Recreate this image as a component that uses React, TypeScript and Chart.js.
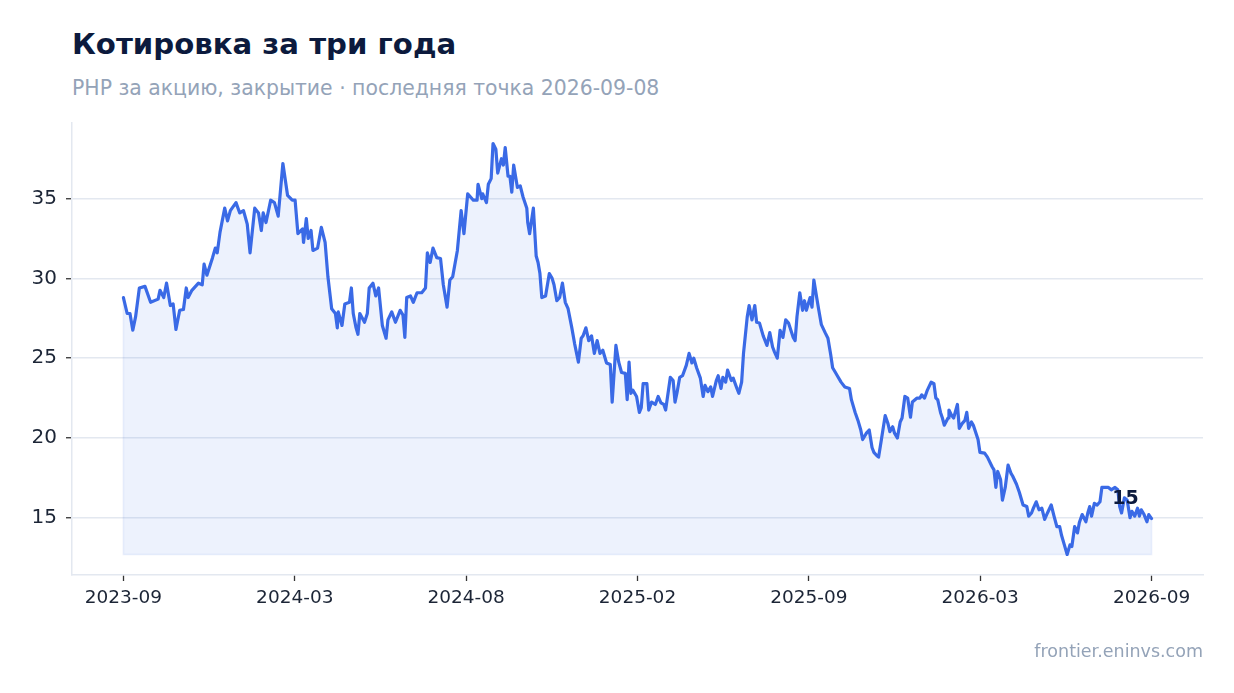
import React, { useEffect, useRef } from "react";
import { Chart, registerables } from "chart.js";

Chart.register(...registerables);

// x-axis tick labels (evenly spaced across the 3-year window)
const tickLabels = ["2023-09", "2024-03", "2024-08", "2025-02", "2025-09", "2026-03", "2026-09"];
const yTicks = [15, 20, 25, 30, 35];
const spanDays = 1096;
const lastDate = "2026-09-08";

// day offset of each sampled close from the window start
const sessionDay = [
  0, 4, 7, 10, 13, 17, 23, 29, 37, 39,
  43, 46, 50, 53, 56, 60, 64, 67, 69, 73,
  80, 84, 86, 89, 95, 98, 100, 103, 108, 111,
  114, 120, 124, 128, 132, 135, 140, 144, 147, 149,
  152, 157, 161, 165, 170, 175, 180, 183, 186, 191,
  192, 195, 197, 200, 202, 207, 211, 215, 218, 222,
  226, 228, 229, 233, 236, 241, 243, 245, 248, 250,
  252, 257, 260, 262, 266, 269, 272, 276, 280, 282,
  286, 290, 295, 298, 300, 302, 306, 309, 313, 318,
  322, 324, 327, 330, 334, 338, 341, 345, 348, 351,
  356, 360, 363, 367, 373, 377, 378, 382, 383, 387,
  389, 392, 394, 397, 399, 403, 405, 407, 410, 412,
  414, 416, 420, 423, 426, 430, 431, 433, 437, 440,
  442, 444, 446, 450, 454, 457, 459, 462, 465, 468,
  471, 474, 478, 481, 485, 488, 490, 493, 496, 499,
  502, 505, 508, 511, 515, 519, 521, 525, 528, 531,
  535, 537, 539, 541, 543, 547, 550, 552, 554, 558,
  560, 563, 567, 570, 573, 576, 578, 583, 586, 588,
  590, 593, 596, 600, 603, 606, 608, 611, 615, 618,
  620, 623, 626, 628, 632, 634, 637, 639, 642, 644,
  648, 650, 654, 656, 659, 661, 665, 667, 670, 673,
  675, 678, 682, 686, 689, 692, 694, 697, 700, 703,
  706, 709, 714, 716, 718, 721, 724, 726, 728, 732,
  734, 736, 739, 741, 744, 748, 751, 754, 756, 759,
  761, 765, 769, 774, 776, 780, 783, 786, 788, 792,
  795, 798, 800, 803, 805, 808, 812, 815, 817, 820,
  822, 825, 828, 830, 833, 836, 839, 841, 846, 849,
  851, 854, 857, 861, 864, 866, 868, 871, 873, 875,
  879, 880, 883, 885, 889, 891, 894, 897, 899, 901,
  904, 906, 911, 913, 918, 921, 926, 928, 930, 932,
  935, 937, 940, 943, 946, 948, 952, 955, 959, 963,
  965, 968, 970, 973, 976, 979, 982, 985, 989, 992,
  995, 998, 1000, 1003, 1006, 1009, 1011, 1014, 1017, 1019,
  1022, 1026, 1028, 1030, 1032, 1035, 1038, 1041, 1043, 1047,
  1050, 1053, 1057, 1060, 1062, 1064, 1067, 1070, 1073, 1075,
  1078, 1081, 1083, 1085, 1088, 1091, 1093, 1096,
];

// closing price, PHP per share
const closes = [
  28.8, 27.8, 27.8, 26.75, 27.6, 29.4, 29.5, 28.5, 28.7, 29.25,
  28.8, 29.7, 28.3, 28.4, 26.8, 28.0, 28.05, 29.4, 28.8, 29.25,
  29.7, 29.6, 30.9, 30.2, 31.3, 31.9, 31.6, 32.9, 34.4, 33.6,
  34.25, 34.75, 34.1, 34.25, 33.4, 31.6, 34.4, 34.1, 33.0, 34.1,
  33.5, 34.9, 34.75, 33.9, 37.2, 35.2, 34.9, 34.9, 32.8, 33.1,
  32.25, 33.75, 32.5, 33.0, 31.75, 31.9, 33.2, 32.25, 30.1, 28.1,
  27.8, 26.9, 27.9, 27.05, 28.4, 28.5, 29.4, 27.8, 26.9, 26.5,
  27.8, 27.25, 27.8, 29.4, 29.7, 28.9, 29.4, 27.05, 26.25, 27.4,
  27.9, 27.25, 28.0, 27.7, 26.3, 28.8, 28.9, 28.5, 29.1, 29.1,
  29.4, 31.6, 31.0, 31.9, 31.3, 31.25, 29.6, 28.2, 29.9, 30.1,
  31.75, 34.25, 32.8, 35.3, 34.9, 34.9, 35.9, 35.0, 35.3, 34.75,
  35.9, 36.25, 38.45, 38.1, 36.6, 37.5, 37.1, 38.2, 36.4, 36.4,
  35.4, 37.1, 35.7, 35.8, 35.1, 34.4, 33.5, 32.8, 34.4, 31.4,
  31.0, 30.3, 28.8, 28.9, 30.3, 30.0, 29.6, 28.6, 28.8, 29.7,
  28.5, 28.1, 26.9, 25.9, 24.75, 26.25, 26.4, 26.9, 26.1, 26.4,
  25.3, 26.1, 25.3, 25.5, 24.7, 24.6, 22.25, 25.8, 24.75, 24.1,
  24.05, 22.4, 24.75, 22.8, 23.0, 22.6, 21.6, 21.9, 23.4, 23.4,
  21.75, 22.25, 22.1, 22.6, 22.2, 22.1, 21.75, 23.8, 23.6, 22.25,
  22.8, 23.8, 23.9, 24.55, 25.3, 24.7, 25.0, 24.4, 23.75, 22.6,
  23.3, 22.9, 23.2, 22.6, 23.6, 23.9, 23.1, 23.8, 23.5, 24.25,
  23.6, 23.75, 23.1, 22.8, 23.5, 25.3, 27.6, 28.3, 27.4, 28.3,
  27.25, 27.2, 26.4, 25.8, 26.6, 25.7, 25.4, 25.0, 26.75, 26.3,
  27.4, 27.2, 26.3, 26.1, 27.6, 29.1, 28.0, 28.6, 28.0, 28.8,
  28.2, 29.9, 28.8, 28.1, 27.1, 26.6, 26.25, 25.2, 24.4, 24.1,
  23.9, 23.5, 23.2, 23.1, 22.4, 21.6, 21.1, 20.5, 19.9, 20.3,
  20.5, 19.4, 19.1, 18.9, 18.8, 19.9, 21.4, 20.9, 20.4, 20.7,
  20.3, 20.0, 21.0, 21.25, 22.6, 22.5, 21.3, 22.25, 22.5, 22.5,
  22.7, 22.5, 23.0, 23.5, 23.4, 22.5, 22.4, 21.6, 21.25, 20.8,
  21.25, 21.75, 21.4, 21.25, 22.1, 20.6, 20.9, 21.1, 21.6, 20.6,
  21.0, 20.8, 19.9, 19.1, 19.05, 18.8, 18.2, 18.0, 16.9, 17.9,
  17.4, 16.1, 16.9, 18.3, 17.8, 17.6, 17.1, 16.6, 15.8, 15.7,
  15.1, 15.3, 15.6, 16.0, 15.5, 15.6, 14.9, 15.3, 15.8, 15.1,
  14.45, 14.45, 13.9, 13.3, 12.7, 13.3, 13.2, 14.45, 14.05, 14.7,
  15.2, 14.75, 15.3, 15.7, 15.1, 15.9, 15.8, 16.0, 16.9, 16.9,
  16.9, 16.75, 16.9, 16.75, 15.7, 15.3, 16.25, 16.1, 15.0, 15.4,
  15.1, 15.6, 15.1, 15.5, 15.2, 14.75, 15.2, 14.95,
];

const FONT = "'DejaVu Sans', sans-serif";
const LINE = "#3a6ae6";
const FILL = "rgba(58, 106, 230, 0.09)";
const FILL_EDGE = "rgba(58, 106, 230, 0.10)";
const GRID = "#e3e8f0";
const TICK_TEXT = "#1c2536";
const NAVY = "#0c1a3d";
const MUTED = "#94a3b8";

const lastLabelPlugin = {
  id: "lastLabel",
  afterDatasetsDraw(chart: any) {
    const meta = chart.getDatasetMeta(1);
    const pt = meta.data[meta.data.length - 1];
    if (!pt) return;
    const v = closes[closes.length - 1];
    const ctx = chart.ctx;
    ctx.save();
    ctx.font = `bold 19px ${FONT}`;
    ctx.fillStyle = NAVY;
    ctx.textAlign = "center";
    ctx.textBaseline = "middle";
    ctx.fillText(v.toFixed(0), pt.x - 26, pt.y - 19);
    ctx.restore();
  },
};

export default function App() {
  const ref = useRef<HTMLCanvasElement | null>(null);

  useEffect(() => {
    if (!ref.current) return;
    const lo = Math.min(...closes);
    const hi = Math.max(...closes);
    const pad = (hi - lo) * 0.05;
    const points = sessionDay.map((d, i) => ({ x: d, y: closes[i] }));
    const firstDay = sessionDay[0];
    const endDay = sessionDay[sessionDay.length - 1];
    const edge = [
      { x: firstDay, y: closes[0] },
      { x: firstDay, y: lo },
      { x: endDay, y: lo },
      { x: endDay, y: closes[closes.length - 1] },
    ];

    const chart = new Chart(ref.current, {
      type: "line",
      data: {
        datasets: [
          {
            data: edge,
            borderColor: FILL_EDGE,
            borderWidth: 1.5,
            pointRadius: 0,
            fill: false,
            tension: 0,
          },
          {
            data: points,
            borderColor: LINE,
            borderWidth: 3.2,
            backgroundColor: FILL,
            fill: { value: lo },
            pointRadius: 0,
            tension: 0,
            borderJoinStyle: "round",
            borderCapStyle: "round",
          },
        ],
      },
      options: {
        responsive: false,
        animation: false,
        layout: { padding: { top: 123, right: 31, left: 0, bottom: 0 } },
        plugins: {
          legend: { display: false },
          tooltip: { enabled: false },
          title: { display: false },
        },
        scales: {
          x: {
            type: "linear",
            min: -spanDays * 0.05,
            max: spanDays * 1.05,
            afterBuildTicks: (s: any) => {
              s.ticks = tickLabels.map((_, i) => ({ value: (i * spanDays) / (tickLabels.length - 1) }));
            },
            afterFit: (s: any) => {
              s.height = 118;
            },
            ticks: {
              autoSkip: false,
              maxRotation: 0,
              padding: 6,
              color: TICK_TEXT,
              font: { family: FONT, size: 18.5 },
              callback: (_v: any, i: number) => tickLabels[i],
            },
            grid: {
              drawOnChartArea: false,
              tickColor: "#333333",
              tickLength: 6,
              tickWidth: 1.3,
            },
            border: { color: GRID, width: 1.5 },
          },
          y: {
            min: lo - pad,
            max: hi + pad,
            afterBuildTicks: (s: any) => {
              s.ticks = yTicks.map((v) => ({ value: v }));
            },
            afterFit: (s: any) => {
              s.width = 72;
            },
            ticks: {
              padding: 9,
              color: TICK_TEXT,
              font: { family: FONT, size: 20 },
              callback: (v: any) => String(v),
            },
            grid: {
              color: GRID,
              lineWidth: 1.5,
              tickColor: "#333333",
              tickLength: 6,
              tickWidth: 1.3,
            },
            border: { color: GRID, width: 1.5 },
          },
        },
      },
      plugins: [lastLabelPlugin],
    });
    return () => chart.destroy();
  }, []);

  return (
    <div
      style={{
        position: "absolute",
        left: 0,
        top: 0,
        width: 1234,
        height: 693,
        background: "#ffffff",
        fontFamily: FONT,
      }}
    >
      <div
        style={{
          position: "absolute",
          left: 72,
          top: 30,
          fontSize: 29.2,
          lineHeight: 1,
          fontWeight: "bold",
          color: NAVY,
          whiteSpace: "nowrap",
        }}
      >
        Котировка за три года
      </div>
      <div
        style={{
          position: "absolute",
          left: 72,
          top: 78,
          fontSize: 20.4,
          lineHeight: 1,
          color: MUTED,
          whiteSpace: "nowrap",
        }}
      >
        {`PHP за акцию, закрытие · последняя точка ${lastDate}`}
      </div>
      <canvas ref={ref} width={1234} height={693} style={{ position: "absolute", left: 0, top: 0 }} />
      <div
        style={{
          position: "absolute",
          right: 31,
          top: 643,
          fontSize: 17.5,
          lineHeight: 1,
          color: MUTED,
          whiteSpace: "nowrap",
        }}
      >
        frontier.eninvs.com
      </div>
    </div>
  );
}
